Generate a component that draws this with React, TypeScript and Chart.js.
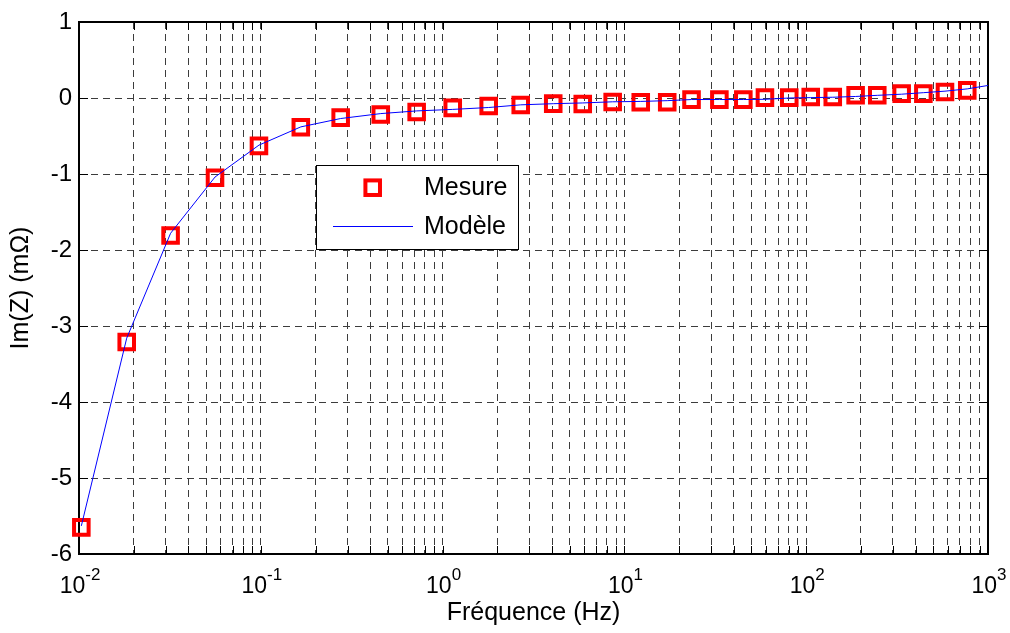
import React, { useEffect, useRef } from 'react';
import { Chart, registerables } from 'chart.js';

Chart.register(...registerables);

// ---- Data ----
const freqMesure = [0.0103, 0.0183, 0.0319, 0.056, 0.0977, 0.166, 0.275, 0.457, 0.72, 1.137, 1.793, 2.69, 4.06, 5.9, 8.62, 12.3, 17.2, 23.4, 33.3, 45.1, 59.3, 80.7, 105.9, 140, 187, 246, 335, 441, 580, 769];
const imMesure = [-5.65, -3.21, -1.81, -1.05, -0.63, -0.385, -0.258, -0.218, -0.184, -0.13, -0.105, -0.092, -0.074, -0.079, -0.053, -0.057, -0.057, -0.021, -0.021, -0.021, 0.005, 0.005, 0.013, 0.013, 0.036, 0.036, 0.058, 0.058, 0.079, 0.1];
const freqModele = [0.0103, 0.0183, 0.0319, 0.056, 0.0977, 0.166, 0.275, 0.457, 0.72, 1.137, 1.793, 2.69, 4.06, 5.9, 8.62, 12.3, 17.2, 23.4, 33.3, 45.1, 59.3, 80.7, 105.9, 140, 187, 246, 335, 441, 580, 769, 1000];
const imModele = [-5.63, -3.16, -1.78, -1.04, -0.62, -0.38, -0.27, -0.205, -0.17, -0.15, -0.125, -0.09, -0.075, -0.065, -0.05, -0.045, -0.035, -0.02, -0.02, -0.02, -0.017, 0.0, 0.005, 0.01, 0.02, 0.035, 0.05, 0.07, 0.09, 0.12, 0.165];

const seriesLabels = ['Mesure', 'Modèle'];
const xExponents = [-2, -1, 0, 1, 2, 3];
const xMultipliers = [1, 2, 3, 4, 5, 6, 7, 8, 9];
const yMin = -6;
const yMax = 1;
const xTitle = 'Fréquence (Hz)';
const yTitle = 'Im(Z) (mΩ)';

const FONT = '"Liberation Sans", Arial, Helvetica, sans-serif';
const RED = '#ff0000';
const BLUE = '#0000ff';
const GRID = '#3c3c3c';

const xTickValues: number[] = [];
xExponents.forEach((e) => {
  xMultipliers.forEach((m) => {
    const v = m * Math.pow(10, e);
    if (v <= Math.pow(10, xExponents[xExponents.length - 1]) + 1e-9) xTickValues.push(v);
  });
});

const matlabPlugin = {
  id: 'matlabDecor',
  beforeDatasetsDraw(chart: any) {
    const { ctx, chartArea } = chart;
    const { left, right, top, bottom } = chartArea;
    const xs = chart.scales.x;
    const ys = chart.scales.y;
    ctx.save();
    ctx.strokeStyle = '#000';
    ctx.lineWidth = 1;
    ctx.setLineDash([]);
    ctx.beginPath();
    xs.ticks.forEach((t: any) => {
      const px = Math.round(xs.getPixelForValue(t.value)) + 0.5;
      ctx.moveTo(px, bottom);
      ctx.lineTo(px, bottom - 8);
      ctx.moveTo(px, top);
      ctx.lineTo(px, top + 8);
    });
    ys.ticks.forEach((t: any) => {
      const py = Math.round(ys.getPixelForValue(t.value)) + 0.5;
      ctx.moveTo(left, py);
      ctx.lineTo(left + 9, py);
      ctx.moveTo(right, py);
      ctx.lineTo(right - 9, py);
    });
    ctx.stroke();
    ctx.lineWidth = 2;
    ctx.strokeRect(left, top, right - left, bottom - top);
    ctx.restore();
  },
  afterDraw(chart: any) {
    const { ctx } = chart;
    const xs = chart.scales.x;
    ctx.save();
    ctx.fillStyle = '#000';
    ctx.textBaseline = 'alphabetic';
    ctx.textAlign = 'left';
    xExponents.forEach((e) => {
      const px = xs.getPixelForValue(Math.pow(10, e));
      ctx.font = `23px ${FONT}`;
      const base = '10';
      const wb = ctx.measureText(base).width;
      ctx.font = `17px ${FONT}`;
      const ex = String(e);
      const we = ctx.measureText(ex).width;
      const start = px - (wb + we) / 2 + 1;
      ctx.font = `23px ${FONT}`;
      ctx.fillText(base, start, 592.5);
      ctx.font = `17px ${FONT}`;
      ctx.fillText(ex, start + wb, 580);
    });

    // Legend
    const lx = 316.5, ly = 165.5, lw = 202, lh = 84;
    ctx.fillStyle = '#fff';
    ctx.fillRect(lx, ly, lw, lh);
    ctx.strokeStyle = '#000';
    ctx.lineWidth = 1;
    ctx.strokeRect(lx, ly, lw, lh);
    const ds0 = chart.data.datasets[0];
    const ds1 = chart.data.datasets[1];
    const s = Math.SQRT1_2 * ds0.pointRadius;
    ctx.strokeStyle = ds0.borderColor;
    ctx.lineWidth = ds0.pointBorderWidth;
    ctx.strokeRect(372.7 - s, 187.7 - s, 2 * s, 2 * s);
    ctx.strokeStyle = ds1.borderColor;
    ctx.lineWidth = ds1.borderWidth;
    ctx.beginPath();
    ctx.moveTo(333, 226.5);
    ctx.lineTo(413, 226.5);
    ctx.stroke();
    ctx.fillStyle = '#000';
    ctx.font = `25px ${FONT}`;
    ctx.textBaseline = 'middle';
    ctx.fillText(ds0.label, 424, 188);
    ctx.fillText(ds1.label, 424, 227);
    ctx.restore();
  },
};

export default function App() {
  const ref = useRef<HTMLCanvasElement | null>(null);
  useEffect(() => {
    if (!ref.current) return;
    const chart = new Chart(ref.current, {
      type: 'scatter',
      data: {
        datasets: [
          {
            label: seriesLabels[0],
            data: freqMesure.map((f, i) => ({ x: f, y: imMesure[i] })),
            showLine: false,
            pointStyle: 'rect',
            pointRadius: 10.3,
            pointHoverRadius: 10.3,
            pointBorderWidth: 4,
            borderColor: RED,
            pointBorderColor: RED,
            backgroundColor: 'rgba(0,0,0,0)',
            pointBackgroundColor: 'rgba(0,0,0,0)',
            clip: false,
            order: 1,
          } as any,
          {
            label: seriesLabels[1],
            data: freqModele.map((f, i) => ({ x: f, y: imModele[i] })),
            showLine: true,
            borderColor: BLUE,
            borderWidth: 1,
            pointRadius: 0,
            pointHoverRadius: 0,
            tension: 0,
            fill: false,
            order: 0,
          } as any,
        ],
      },
      options: {
        animation: false,
        responsive: false,
        devicePixelRatio: 1,
        layout: { padding: { top: 22, right: 22, left: 0, bottom: 0 } },
        plugins: {
          legend: { display: false },
          tooltip: { enabled: false },
        },
        scales: {
          x: {
            type: 'logarithmic',
            min: Math.pow(10, xExponents[0]),
            max: Math.pow(10, xExponents[xExponents.length - 1]),
            afterBuildTicks: (scale: any) => {
              scale.ticks = xTickValues.map((v) => ({ value: v, major: false }));
            },
            afterFit: (scale: any) => {
              scale.height = 79;
            },
            ticks: { autoSkip: false, maxRotation: 0, callback: () => '', font: { size: 22, family: FONT } },
            grid: { color: GRID, lineWidth: 1, drawTicks: false },
            border: { display: false, dash: [7, 5] },
            title: {
              display: true,
              text: xTitle,
              color: '#000',
              font: { size: 25, family: FONT },
              padding: { top: 0, bottom: 5 },
            },
          },
          y: {
            type: 'linear',
            min: yMin,
            max: yMax,
            afterFit: (scale: any) => {
              scale.width = 79;
            },
            ticks: {
              stepSize: 1,
              color: '#000',
              padding: 7,
              font: { size: 24, family: FONT },
              callback: (v: any) => String(v),
            },
            grid: { color: GRID, lineWidth: 1, drawTicks: false },
            border: { display: false, dash: [7, 5] },
            title: {
              display: true,
              text: yTitle,
              color: '#000',
              font: { size: 25, family: FONT },
              padding: { top: 6, bottom: 0 },
            },
          },
        },
      } as any,
      plugins: [matlabPlugin],
    });
    return () => chart.destroy();
  }, []);
  return (
    <div style={{ position: 'absolute', left: 0, top: 0, width: 1010, height: 633, background: '#fff' }}>
      <canvas ref={ref} width={1010} height={633} style={{ display: 'block', width: 1010, height: 633 }} />
    </div>
  );
}
